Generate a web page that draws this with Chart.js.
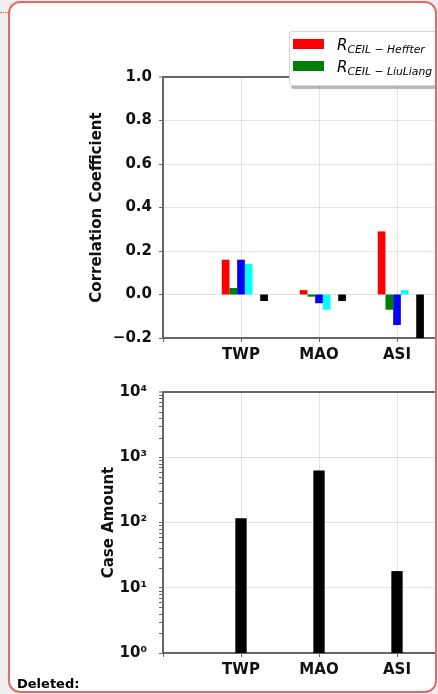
<!DOCTYPE html>
<html>
<head>
<meta charset="utf-8">
<script src="https://cdn.jsdelivr.net/npm/chart.js@4.4.1/dist/chart.umd.min.js"></script>
<style>
  html, body { margin: 0; padding: 0; width: 438px; height: 694px; overflow: hidden; background: #efefef; font-family: "DejaVu Sans", sans-serif; }
  #dots { position: absolute; left: 0; top: 12px; width: 8px; border-top: 1px dotted #e06060; }
  #frame { position: absolute; left: 8px; top: 1px; width: 429px; height: 692px; box-sizing: border-box; border: 2px solid #e46a6a; border-radius: 12px; background: #fff; }
  #clip { position: absolute; left: 10px; top: 3px; width: 425px; height: 688px; overflow: hidden; border-radius: 10px; }
  #stage { position: absolute; left: -10px; top: -3px; width: 560px; height: 700px; }
  canvas { position: absolute; left: 0; }
  #c1 { top: 0; }
  #c2 { top: 370px; }
  #legend { position: absolute; left: 289px; top: 31px; width: 200px; height: 55px; box-sizing: border-box; background: #fff; border: 1px solid #d4d4d4; border-radius: 3px; box-shadow: 2px 3px 1px rgba(0,0,0,0.28); }
  .patch { position: absolute; left: 293px; width: 31px; height: 10px; }
  .lab { position: absolute; left: 337px; font-style: italic; font-size: 15px; line-height: 15px; white-space: nowrap; color: #000; }
  .lab sub { font-size: 10.8px; vertical-align: -3px; line-height: 0; }
  #deleted { position: absolute; left: 17px; top: 677px; font-weight: bold; font-size: 13px; line-height: 13px; color: #000; }
</style>
</head>
<body>
<div id="dots"></div>
<div id="frame"></div>
<div id="clip">
  <div id="stage">
    <canvas id="c1" width="560" height="370"></canvas>
    <canvas id="c2" width="560" height="330"></canvas>
    <div id="legend"></div>
    <span class="patch" style="top:39px;background:#ff0000"></span>
    <span class="lab" style="top:38px"><i>R</i><sub>CEIL − Heffter</sub></span>
    <span class="patch" style="top:61px;background:#008000"></span>
    <span class="lab" style="top:59.5px"><i>R</i><sub>CEIL − LiuLiang</sub></span>
    <div id="deleted">Deleted:</div>
  </div>
</div>
<script>
// regions along the x axis
const regions = ['TWP', 'MAO', 'ASI'];

// correlation coefficients per region
const rHeffter  = [0.16, 0.02, 0.29];
const rLiuLiang = [0.03, -0.01, -0.07];
const rBlue     = [0.16, -0.04, -0.14];
const rCyan     = [0.14, -0.07, 0.02];
const rBlack    = [-0.03, -0.03, -0.25];

// number of cases per region
const caseAmount = [116, 628, 18];

// y ticks of the log panel
const caseDecades = [1, 10, 100, 1000, 10000];
const decadeLabels = ['10⁰', '10¹', '10²', '10³', '10⁴'];

// empty slot left of TWP and right of ASI
const xLabels = ['', ...regions, ''];
const pad = arr => [null, ...arr, null];

const font = { family: 'DejaVu Sans', size: 15, weight: 'bold' };
const textCol = '#111';
const spine = '#666';
const gridCol = '#e2e2e2';

Chart.defaults.font.family = 'DejaVu Sans';

// minor tick marks 2..9 of every decade on the log axis
const minorTicks = {
  id: 'minorTicks',
  afterDraw(chart) {
    const s = chart.scales.y;
    const ctx = chart.ctx;
    const x = chart.chartArea.left - 1;
    ctx.save();
    ctx.strokeStyle = spine;
    ctx.lineWidth = 1;
    caseDecades.slice(0, -1).forEach(d => {
      for (let m = 2; m <= 9; m++) {
        const y = Math.round(s.getPixelForValue(d * m)) + 0.5;
        ctx.beginPath();
        ctx.moveTo(x - 3, y);
        ctx.lineTo(x, y);
        ctx.stroke();
      }
    });
    ctx.restore();
  }
};

new Chart(document.getElementById('c1'), {
  type: 'bar',
  data: {
    labels: xLabels,
    datasets: [
      { data: pad([null, null, null]), backgroundColor: '#ffffff' },
      { data: pad(rHeffter), backgroundColor: '#ff0000' },
      { data: pad(rLiuLiang), backgroundColor: '#008000' },
      { data: pad(rBlue), backgroundColor: '#0000ff' },
      { data: pad(rCyan), backgroundColor: '#00ffff' },
      { data: pad([null, null, null]), backgroundColor: '#ffffff' },
      { data: pad(rBlack), backgroundColor: '#000000' }
    ]
  },
  options: {
    responsive: false,
    animation: false,
    layout: { padding: { left: 0, top: 77, right: 85, bottom: 0 } },
    plugins: { legend: { display: false }, tooltip: { enabled: false } },
    datasets: { bar: { categoryPercentage: 0.69, barPercentage: 1 } },
    scales: {
      x: {
        offset: false,
        grid: { offset: false, color: gridCol, tickColor: spine, tickLength: 4, tickWidth: 1 },
        border: { color: spine, width: 2 },
        ticks: { font, color: textCol, padding: 4, maxRotation: 0, autoSkip: false },
        afterFit: s => { s.height = 32; }
      },
      y: {
        min: -0.2,
        max: 1.0,
        grid: {
          color: c => (c.tick && Math.abs(c.tick.value - 1) < 1e-6) ? spine : gridCol,
          lineWidth: c => (c.tick && Math.abs(c.tick.value - 1) < 1e-6) ? 2 : 1,
          tickColor: spine, tickLength: 4, tickWidth: 1
        },
        border: { color: spine, width: 2 },
        ticks: {
          stepSize: 0.2, font, color: textCol, padding: 7,
          callback: v => Math.abs(v) < 1e-9 ? '0.0' : (v < 0 ? '−' : '') + Math.abs(v).toFixed(1)
        },
        title: { display: true, text: 'Correlation Coefficient', font, color: textCol, padding: { top: 88, bottom: 0 } },
        afterFit: s => { s.width = 163; }
      }
    }
  }
});

new Chart(document.getElementById('c2'), {
  type: 'bar',
  data: {
    labels: xLabels,
    datasets: [
      { data: pad(caseAmount), backgroundColor: '#000000' }
    ]
  },
  options: {
    responsive: false,
    animation: false,
    layout: { padding: { left: 0, top: 22, right: 85, bottom: 0 } },
    plugins: { legend: { display: false }, tooltip: { enabled: false } },
    datasets: { bar: { categoryPercentage: 0.145, barPercentage: 1 } },
    scales: {
      x: {
        offset: false,
        grid: { offset: false, color: gridCol, tickColor: spine, tickLength: 4, tickWidth: 1 },
        border: { color: spine, width: 2 },
        ticks: { font, color: textCol, padding: 4, maxRotation: 0, autoSkip: false },
        afterFit: s => { s.height = 47; }
      },
      y: {
        type: 'logarithmic',
        min: 1,
        max: 10000,
        afterBuildTicks: s => {
          s.ticks = caseDecades.map(v => ({ value: v }));
        },
        grid: {
          color: c => (c.tick && c.tick.value === 10000) ? spine : gridCol,
          lineWidth: c => (c.tick && c.tick.value === 10000) ? 2 : 1,
          tickColor: spine,
          tickLength: 4, tickWidth: 1
        },
        border: { color: spine, width: 2 },
        ticks: {
          autoSkip: false, font, color: textCol, padding: 12,
          callback: v => {
            const i = caseDecades.indexOf(v);
            return i >= 0 ? decadeLabels[i] : '';
          }
        },
        title: { display: true, text: 'Case Amount', font, color: textCol, padding: { top: 100, bottom: 0 } },
        afterFit: s => { s.width = 163; }
      }
    }
  },
  plugins: [minorTicks]
});
</script>
</body>
</html>
